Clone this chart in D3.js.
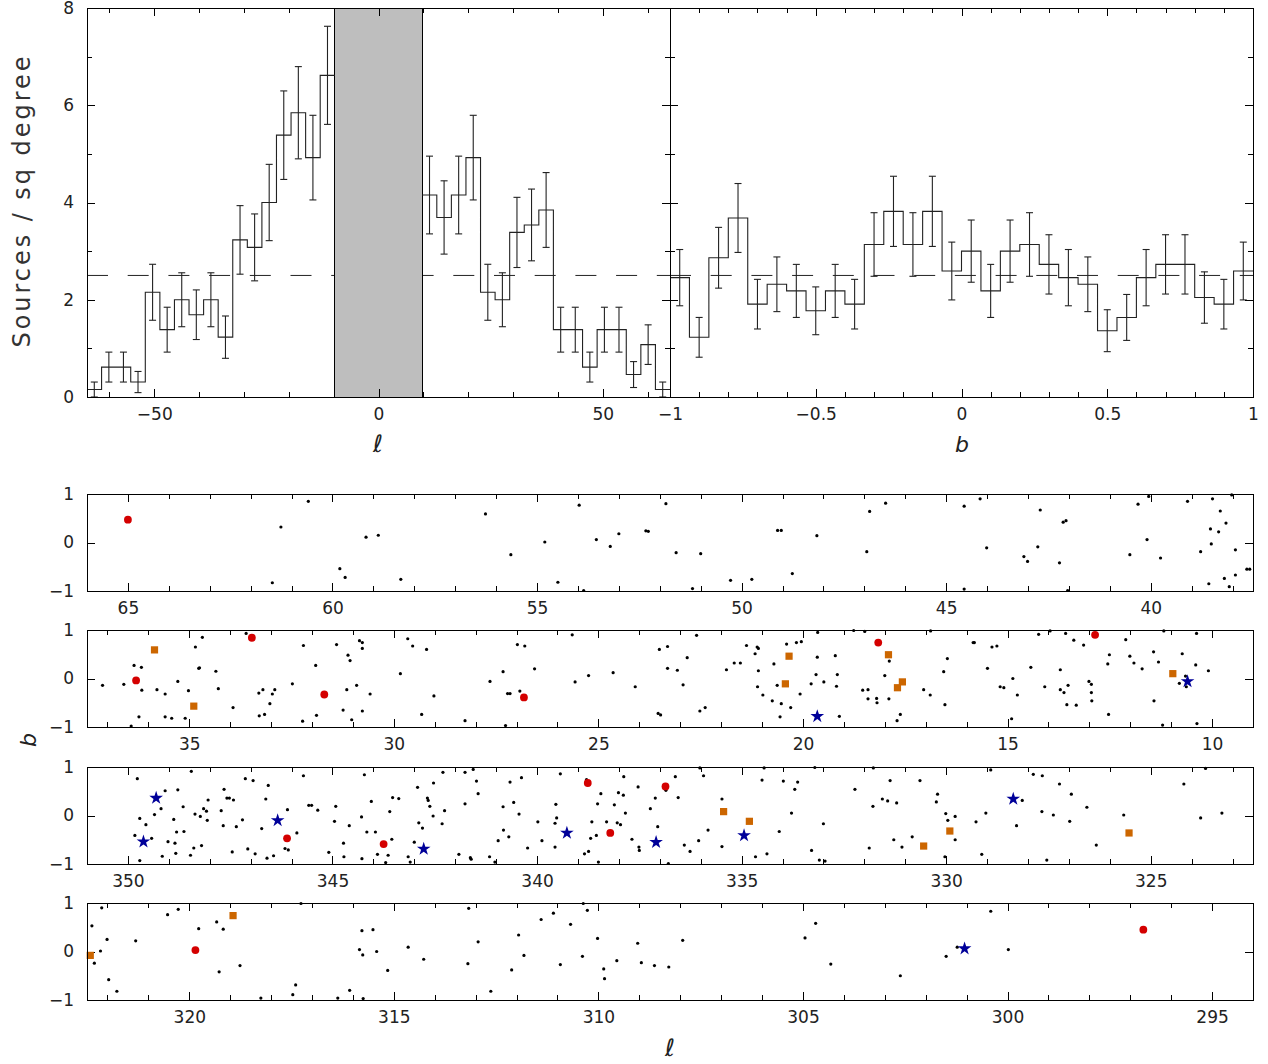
<!DOCTYPE html>
<html>
<head>
<meta charset="utf-8">
<script src="https://cdn.jsdelivr.net/npm/d3@7"></script>
<style>
body{margin:0;background:#fff}
text{font-family:"DejaVu Sans",sans-serif}
</style>
</head>
<body>
<svg id="chart" width="1268" height="1064"></svg>
<script>
// ---- histogram in l (counts per 3.25 deg bin, b = -1..1), null = masked band
var lBinStart = -65, lBinWidth = 3.25, lBinArea = 6.5;
var lCounts = [1,4,4,2,14,9,13,11,13,8,21,20,26,35,38,32,43,
               null,null,null,null,null,null,
               27,24,27,32,14,13,22,23,25,9,9,4,9,9,3,7,1];
var lMask = [-9.75, 9.75];
// ---- histogram in b (30 bins over -1..1, 110 deg of l)
var bBinStart = -1, bBinWidth = 1/15, bBinArea = 110/15;
var bCounts = [18,9,21,27,14,17,16,13,16,14,23,28,23,28,19,22,16,22,23,20,18,17,10,12,18,20,20,15,14,19];
var meanDensity = 2.5;
var densityTicks = [0,2,4,6,8], densityMinor = [1,3,5,7];
var lTicks = [-50,0,50], lMinor = [-60,-40,-30,-20,-10,10,20,30,40,60];
var bTicks = [-1,-0.5,0,0.5,1];
var bMinor = [-0.9,-0.8,-0.7,-0.6,-0.4,-0.3,-0.2,-0.1,0.1,0.2,0.3,0.4,0.6,0.7,0.8,0.9];

// ---- strips: l range left -> right
var stripRanges = [[66,37.5],[37.5,9],[351,322.5],[322.5,294]];

var blackSources = [
[60.59,0.85],[61.26,0.32],[61.47,-0.83],[59.18,0.11],[58.88,0.15],[59.82,-0.54],[59.69,-0.72],[58.33,-0.76],[56.26,0.59],[55.64,-0.25],[54.81,0.01],[54.49,-0.82],[53.97,0.77],[53.86,-0.99],[53.55,0.06],[53.21,-0.08],[53.00,0.18],[52.34,0.24],[52.28,0.23],[51.85,0.80],
[51.60,-0.21],[51.20,-0.95],[51.00,-0.23],[50.27,-0.78],[49.75,-0.76],[49.12,0.25],[49.03,0.25],[48.76,-0.64],[48.16,0.14],[46.94,-0.19],[46.87,0.64],[46.48,0.81],[44.56,0.75],[44.56,-0.96],[44.17,0.90],[44.01,-0.11],[43.10,-0.29],[43.01,-0.39],[42.76,-0.09],[42.70,0.67],[42.23,-0.42],[42.14,0.42],[42.07,0.45],[42.03,-0.99],[40.51,-0.25],[40.31,0.79],[40.09,0.06],[40.05,0.95],[39.76,-0.32],[39.10,0.85],[38.78,-0.19],[38.58,-0.85],[38.54,0.28],[38.52,-0.03],[38.49,0.90],[38.34,0.22],[38.30,0.65],[38.20,-0.74],[38.16,0.40],[38.08,-0.91],[38.02,0.98],[37.93,-0.15],[37.93,-0.67],[37.65,-0.55],[37.58,-0.55],
[37.12,-0.14],[36.60,-0.12],[36.42,-0.98],[36.35,0.27],[36.23,-0.79],[36.17,0.23],[36.16,-0.24],[35.79,-0.23],[35.59,-0.32],[35.59,-0.79],[35.43,-0.82],[35.28,-0.06],[35.10,-0.82],[35.02,-0.25],[34.85,0.65],[34.77,0.21],[34.75,0.22],[34.68,0.85],[34.35,0.15],[34.29,-0.21],[33.93,-0.60],[33.61,0.93],[33.30,-0.30],[33.29,-0.77],[33.20,-0.23],[33.16,-0.74],[33.03,-0.52],[32.97,-0.32],[32.91,-0.23],[32.48,-0.11],[32.23,-0.88],[32.21,0.68],[31.91,0.27],[31.89,-0.76],[31.40,0.70],[31.24,-0.65],[31.15,-0.23],[31.12,0.48],[31.07,0.37],[31.03,-0.85],[30.91,-0.14],[30.84,0.78],[30.77,0.74],[30.77,0.62],[30.77,-0.67],[30.58,-0.32],[29.84,0.10],[29.66,0.82],[29.54,0.67],[29.32,-0.74],[29.20,0.60],[29.02,-0.36],[28.26,-0.87],[27.65,-0.06],[27.33,0.14],[27.27,-0.97],[27.22,-0.31],[27.16,-0.31],[26.98,0.70],[26.92,-0.26],[26.80,0.67],[26.56,0.20],[25.64,0.90],[25.57,-0.07],[25.24,0.06],[24.64,0.12],[24.10,-0.17],[23.54,-0.72],[23.51,0.60],[23.48,-0.75],[23.31,0.66],[23.31,0.21],
[23.07,0.17],[22.93,-0.13],[22.83,0.43],[22.60,0.89],[22.52,-0.67],[22.39,-0.60],[21.87,0.18],[21.68,0.32],[21.53,0.32],[21.38,0.68],[21.17,0.51],[21.12,0.65],[21.09,0.62],[21.09,0.16],[21.11,-0.17],[20.98,-0.34],[20.75,-0.46],[20.71,0.30],[20.63,-0.14],[20.56,-0.79],[20.53,-0.52],[20.40,0.71],[20.30,-0.60],[20.16,0.74],[20.07,-0.32],[20.04,0.76],[19.80,-0.11],[19.68,0.08],[19.65,0.44],[19.64,0.95],[19.49,-0.07],[19.21,0.47],[19.18,-0.16],[19.16,0.08],[19.11,-0.78],[18.76,0.99],[18.54,-0.24],[18.49,0.97],[18.41,-0.23],[18.41,-0.42],[18.20,-0.41],[18.19,-0.50],[18.00,0.06],[17.89,0.36],[17.90,-0.42],[17.70,-0.87],[17.62,-0.74],[17.05,-0.23],[16.89,-0.34],[16.88,0.98],[16.56,0.14],[16.53,-0.54],[16.47,0.41],[15.84,0.74],[15.81,0.74],[15.49,0.21],[15.38,0.65],[15.26,0.67],[15.18,-0.17],[15.09,-0.19],[14.90,-0.83],[14.87,0.00],[14.76,-0.34],[14.43,0.23],[14.24,0.91],[14.09,-0.17],[13.96,0.98],[13.71,0.18],[13.71,-0.23],[13.62,-0.29],[13.58,0.93],[13.55,-0.54],[13.52,-0.14],[13.38,0.79],[13.32,-0.55],[13.14,0.69],[13.01,-0.06],[12.95,-0.12],[12.95,-0.29],[12.94,-0.46],[12.55,0.30],[12.53,-0.74],[12.51,0.49],[12.11,0.80],[12.01,0.46],[11.91,0.32],[11.71,0.20],[11.43,0.55],[11.42,-0.46],[11.31,0.34],[11.21,-0.96],[11.18,0.98],[10.80,-0.10],[10.73,0.51],[10.65,0.05],[10.63,-0.17],[10.40,0.28],[10.38,0.93],[10.37,-0.93],[10.09,0.16],
[349.77,0.76],[349.83,-0.41],[349.71,-0.06],[349.71,-0.93],[349.56,-0.19],[349.42,-0.47],[349.35,0.02],[349.19,0.14],[349.16,-0.84],[349.09,0.51],[349.02,-0.54],[348.88,-0.08],[348.85,-0.57],[348.83,-0.78],[348.81,-0.34],[348.78,0.53],[348.65,0.18],[348.63,-0.33],[348.47,-0.82],[348.45,0.91],[348.39,-0.67],[348.36,0.03],[348.23,-0.02],[348.20,-0.62],[348.15,0.14],[348.08,0.09],[348.06,-0.10],[348.04,0.32],[347.72,0.10],[347.67,-0.21],[347.65,0.54],[347.58,0.36],[347.52,0.36],[347.45,-0.75],[347.42,0.32],[347.35,-0.23],[347.20,-0.09],[347.13,0.76],[347.07,-0.69],[346.94,0.72],[346.89,-0.79],[346.73,-0.27],[346.63,0.34],[346.60,-0.88],[346.57,0.62],[346.44,-0.83],[346.16,-0.68],[346.10,0.12],[346.08,-0.71],[345.87,-0.36],[345.71,0.82],[345.58,0.21],[345.51,0.21],[345.36,0.11],[345.09,-0.76],[344.95,-0.12],[344.92,0.19],[344.73,-0.57],[344.72,-0.85],[344.59,-0.21],[344.29,-0.03],[344.28,-0.89],[344.22,0.84],[344.16,-0.34],[344.05,0.29],[343.95,-0.34],[343.90,-0.80],[343.70,-0.97],[343.64,-0.82],[343.60,0.08],[343.55,-0.49],[343.53,0.37],[343.38,0.35],[343.15,-0.85],[343.10,-0.96],[343.00,-0.55],[342.92,0.58],[342.89,-0.15],[342.80,-0.26],[342.68,0.36],[342.66,0.31],[342.62,0.19],[342.54,-0.01],[342.53,0.67],[342.32,-0.17],[342.30,0.89],[342.26,0.10],[341.91,-0.80],[341.76,0.89],[341.76,0.24],[341.63,-0.87],[341.61,-0.90],[341.56,0.95],[341.48,0.71],[341.44,0.45],[341.16,-0.85],[341.03,-0.96],[340.95,-0.52],[340.83,0.18],[340.82,-0.30],[340.69,-0.44],[340.66,0.69],[340.57,0.27],[340.44,0.03],[340.38,0.78],[340.23,-0.67],[339.98,-0.13],[339.88,-0.52],[339.56,-0.16],[339.56,-0.65],[339.54,0.23],[339.52,-0.05],[339.43,0.86],[338.84,-0.79],[338.79,0.74],[338.74,-0.74],[338.69,-0.47],[338.66,-0.13],[338.55,-0.41],[338.52,0.24],[338.50,-0.96],[338.44,0.45],[338.30,-0.13],[338.11,0.22],[338.04,-0.15],[338.01,0.47],[337.96,-0.19],[337.89,0.42],[337.88,0.80],[337.84,0.05],[337.68,-0.49],[337.53,0.59],[337.51,-0.65],[337.50,-0.72],[337.23,0.14],[337.11,0.36],[337.05,-0.23],[336.85,0.52],[336.79,-0.99],
[336.62,0.80],[336.55,0.37],[336.40,-0.61],[336.26,-0.74],[336.05,-0.52],[336.02,0.98],[335.93,0.82],[335.82,-0.30],[335.48,0.34],[335.48,-0.64],[334.66,-0.85],[334.50,0.73],[334.45,0.98],[334.38,-0.79],[334.08,-0.33],[333.98,0.71],[333.78,0.05],[333.70,0.54],[333.63,0.69],[333.29,-0.72],[333.21,0.99],[333.10,-0.92],[333.00,-0.17],[332.96,-0.94],[332.23,0.54],[331.88,-0.67],[331.79,0.19],[331.78,0.98],[331.56,0.34],[331.43,0.30],[331.37,0.72],[331.28,-0.50],[331.21,0.26],[331.08,-0.65],[330.83,-0.44],[330.64,0.72],[330.24,0.28],[330.21,0.44],[330.03,-0.85],[330.01,0.04],[329.96,-0.10],[329.78,-0.02],[329.78,-0.50],[329.27,-0.13],[329.13,-0.80],[329.03,0.05],[328.91,0.94],[328.28,-0.21],[328.14,0.31],[327.87,0.85],[327.66,0.08],[327.65,0.82],[327.54,-0.92],[327.38,0.01],[327.23,0.65],[326.98,-0.12],[326.94,0.44],[326.56,0.17],[326.33,-0.61],[325.66,0.01],[324.19,0.65],[323.78,-0.05],[323.66,0.97],[323.26,0.05],
[322.38,0.53],[322.32,-0.24],[322.17,0.01],[322.14,0.90],[322.01,0.25],[321.97,-0.58],[321.77,-0.82],[321.31,0.22],[320.53,0.76],[320.27,0.87],[319.77,0.47],[319.33,0.61],[319.27,-0.42],[319.17,0.46],[318.76,-0.29],[318.25,-0.96],[317.47,-0.89],[317.40,-0.69],[317.27,0.99],[316.37,-0.96],[316.08,-0.80],[315.84,0.04],[315.78,0.43],[315.76,-0.07],[315.75,-0.97],[315.51,0.45],[315.42,0.00],[315.15,-0.39],[314.65,0.09],[314.27,-0.16],[313.19,-0.25],[313.17,0.89],[312.94,0.20],[312.63,-0.82],[312.12,-0.38],[311.95,0.34],[311.82,-0.08],[311.40,0.66],[311.10,0.79],[310.93,-0.27],[310.68,0.56],[310.39,-0.10],[310.37,0.99],[310.27,0.85],[310.02,0.27],[309.87,-0.36],[309.85,-0.56],[309.55,-0.19],[309.04,0.17],[308.95,-0.23],[308.63,-0.29],[308.28,-0.32],
[307.94,0.23],[304.95,0.28],[304.69,0.58],[304.32,-0.26],[302.62,-0.50],[301.50,-0.10],[301.23,0.09],[300.41,0.83],[299.98,0.04]
];
var redSources = [[65.0,0.47],[33.47,0.84],[36.30,-0.04],[31.70,-0.33],[26.82,-0.39],[18.16,0.74],[12.86,0.90],
  [346.11,-0.47],[343.75,-0.59],[338.76,0.67],[338.21,-0.36],[336.86,0.60],[319.85,0.03],[296.68,0.45]];
var orangeSources = [[35.85,0.59],[34.89,-0.57],[20.34,0.46],[20.43,-0.11],[17.91,0.49],[17.57,-0.07],[17.69,-0.19],[10.96,0.10],
  [335.44,0.08],[334.81,-0.12],[329.91,-0.32],[330.55,-0.63],[325.53,-0.36],[322.42,-0.08],[318.93,0.74]];
var blueSources = [[19.65,-0.78],[10.60,-0.06],[349.31,0.36],[349.62,-0.54],[346.34,-0.10],[342.77,-0.69],[339.27,-0.36],
  [337.09,-0.55],[334.94,-0.41],[328.36,0.34],[301.05,0.06]];

var svg = d3.select('#chart');
var FONT = 17, MAJOR = 8, MINOR = 5;

// axis with inward ticks, no domain line
function tickAxis(g, axisGen, translate, values, len, fmt, pad){
    var ax = g.append('g').attr('transform', translate)
        .call(axisGen.tickValues(values).tickSizeInner(-len).tickSizeOuter(0)
            .tickPadding(pad || 0).tickFormat(fmt || function(){ return ''; }));
    ax.select('.domain').remove();
    ax.selectAll('line').attr('stroke', '#000').attr('shape-rendering', 'crispEdges');
    ax.selectAll('text').attr('font-family', '"DejaVu Sans",sans-serif').attr('font-size', FONT).attr('fill', '#222');
    return ax;
}
function frame(g, x0, y0, x1, y1){
    g.append('rect').attr('x', x0).attr('y', y0).attr('width', x1 - x0).attr('height', y1 - y0)
        .attr('fill', 'none').attr('stroke', '#000').attr('shape-rendering', 'crispEdges');
}
function stepSegments(start, width, counts, area){
    var segs = [], cur = null;
    counts.forEach(function(n, i){
        if (n === null){ cur = null; return; }
        if (!cur){ cur = []; segs.push(cur); }
        var x0 = start + i * width, v = n / area;
        cur.push([x0, v], [x0 + width, v]);
    });
    return segs;
}
function errorBars(start, width, counts, area){
    var out = [];
    counts.forEach(function(n, i){
        if (n === null) return;
        out.push({x: start + (i + 0.5) * width, lo: (n - Math.sqrt(n)) / area, hi: (n + Math.sqrt(n)) / area});
    });
    return out;
}

// ---------------- top panels ----------------
var yD = d3.scaleLinear().domain([0, 8]).range([397, 8]);
var xL = d3.scaleLinear().domain([-65, 65]).range([87, 670]);
var xB = d3.scaleLinear().domain([-1, 1]).range([670, 1253]);

function histPanel(x, start, width, counts, area, mask){
    var g = svg.append('g');
    var r = x.range();
    g.append('line').attr('x1', r[0]).attr('x2', r[1]).attr('y1', yD(meanDensity)).attr('y2', yD(meanDensity))
        .attr('stroke', '#222').attr('stroke-dasharray', '21,19.7');
    if (mask){
        g.append('rect').attr('x', x(mask[0])).attr('y', yD(8)).attr('width', x(mask[1]) - x(mask[0]))
            .attr('height', yD(0) - yD(8)).attr('fill', '#bebebe').attr('stroke', '#000').attr('shape-rendering', 'crispEdges');
    }
    var line = d3.line().x(function(d){ return x(d[0]); }).y(function(d){ return yD(d[1]); });
    g.selectAll('path.step').data(stepSegments(start, width, counts, area)).enter().append('path')
        .attr('class', 'step').attr('d', line).attr('fill', 'none').attr('stroke', '#222').attr('stroke-width', 1.1);
    var eb = g.selectAll('g.eb').data(errorBars(start, width, counts, area)).enter().append('g').attr('class', 'eb');
    eb.append('line').attr('x1', function(d){ return x(d.x); }).attr('x2', function(d){ return x(d.x); })
        .attr('y1', function(d){ return yD(d.lo); }).attr('y2', function(d){ return yD(d.hi); });
    eb.append('line').attr('x1', function(d){ return x(d.x) - 3.5; }).attr('x2', function(d){ return x(d.x) + 3.5; })
        .attr('y1', function(d){ return yD(d.lo); }).attr('y2', function(d){ return yD(d.lo); });
    eb.append('line').attr('x1', function(d){ return x(d.x) - 3.5; }).attr('x2', function(d){ return x(d.x) + 3.5; })
        .attr('y1', function(d){ return yD(d.hi); }).attr('y2', function(d){ return yD(d.hi); });
    eb.selectAll('line').attr('stroke', '#222').attr('stroke-width', 1.1);
    return g;
}

var gL = histPanel(xL, lBinStart, lBinWidth, lCounts, lBinArea, lMask);
tickAxis(gL, d3.axisBottom(xL), 'translate(0,397)', lTicks, MAJOR, d3.format(''), 11);
tickAxis(gL, d3.axisBottom(xL), 'translate(0,397)', lMinor, MINOR);
tickAxis(gL, d3.axisTop(xL), 'translate(0,8)', lTicks, MAJOR);
tickAxis(gL, d3.axisTop(xL), 'translate(0,8)', lMinor, MINOR);
tickAxis(gL, d3.axisLeft(yD), 'translate(87,0)', densityTicks, MAJOR, d3.format('d'), 13);
tickAxis(gL, d3.axisLeft(yD), 'translate(87,0)', densityMinor, MINOR);
tickAxis(gL, d3.axisRight(yD), 'translate(670,0)', densityTicks, MAJOR);
tickAxis(gL, d3.axisRight(yD), 'translate(670,0)', densityMinor, MINOR);
frame(gL, 87, 8, 670, 397);

var gB = histPanel(xB, bBinStart, bBinWidth, bCounts, bBinArea, null);
tickAxis(gB, d3.axisBottom(xB), 'translate(0,397)', bTicks, MAJOR, d3.format(''), 11);
tickAxis(gB, d3.axisBottom(xB), 'translate(0,397)', bMinor, MINOR);
tickAxis(gB, d3.axisTop(xB), 'translate(0,8)', bTicks, MAJOR);
tickAxis(gB, d3.axisTop(xB), 'translate(0,8)', bMinor, MINOR);
tickAxis(gB, d3.axisLeft(yD), 'translate(670,0)', densityTicks, MAJOR);
tickAxis(gB, d3.axisLeft(yD), 'translate(670,0)', densityMinor, MINOR);
tickAxis(gB, d3.axisRight(yD), 'translate(1253,0)', densityTicks, MAJOR);
tickAxis(gB, d3.axisRight(yD), 'translate(1253,0)', densityMinor, MINOR);
frame(gB, 670, 8, 1253, 397);

svg.append('text').attr('transform', 'translate(22,202) rotate(-90)').attr('text-anchor', 'middle')
    .attr('dominant-baseline', 'central').attr('font-size', 24).attr('fill', '#333')
    .attr('textLength', 291).attr('lengthAdjust', 'spacing').text('Sources / sq degree');
svg.append('text').attr('x', 378).attr('y', 452).attr('text-anchor', 'middle')
    .attr('font-family', '"DejaVu Serif",serif').attr('font-style', 'italic').attr('font-size', 24).attr('fill', '#222').text('\u2113');
svg.append('text').attr('x', 962).attr('y', 452).attr('text-anchor', 'middle')
    .attr('font-family', '"DejaVu Serif",serif').attr('font-style', 'italic').attr('font-size', 22).attr('fill', '#222').text('b');

// ---------------- strips ----------------
var stripTops = [494, 630, 767, 903], stripH = 97;
var yStripTicks = [-1, 0, 1];

stripRanges.forEach(function(rg, k){
    var top = stripTops[k], bot = top + stripH;
    var x = d3.scaleLinear().domain(rg).range([87, 1253]);
    var y = d3.scaleLinear().domain([-1, 1]).range([bot, top]);
    var lo = Math.min(rg[0], rg[1]), hi = Math.max(rg[0], rg[1]);
    var inside = function(d){ return d[0] >= lo && d[0] <= hi; };
    var g = svg.append('g');
    var majors = d3.range(Math.ceil(lo / 5) * 5, hi + 0.001, 5);
    var minors = d3.range(Math.ceil(lo), Math.floor(hi) + 1).filter(function(v){ return v % 5 !== 0; });

    tickAxis(g, d3.axisBottom(x), 'translate(0,' + bot + ')', majors, MAJOR, d3.format('d'), 11);
    tickAxis(g, d3.axisBottom(x), 'translate(0,' + bot + ')', minors, MINOR);
    tickAxis(g, d3.axisTop(x), 'translate(0,' + top + ')', majors, MAJOR);
    tickAxis(g, d3.axisTop(x), 'translate(0,' + top + ')', minors, MINOR);
    tickAxis(g, d3.axisLeft(y), 'translate(87,0)', yStripTicks, MAJOR, d3.format('d'), 13);
    tickAxis(g, d3.axisRight(y), 'translate(1253,0)', yStripTicks, MAJOR);

    g.selectAll('circle.src').data(blackSources.filter(inside)).enter().append('circle').attr('class', 'src')
        .attr('cx', function(d){ return x(d[0]); }).attr('cy', function(d){ return y(d[1]); })
        .attr('r', 1.6).attr('fill', '#000');
    g.selectAll('path.sq').data(orangeSources.filter(inside)).enter().append('path').attr('class', 'sq')
        .attr('d', d3.symbol().type(d3.symbolSquare).size(52))
        .attr('transform', function(d){ return 'translate(' + x(d[0]) + ',' + y(d[1]) + ')'; })
        .attr('fill', '#cc6600');
    g.selectAll('circle.red').data(redSources.filter(inside)).enter().append('circle').attr('class', 'red')
        .attr('cx', function(d){ return x(d[0]); }).attr('cy', function(d){ return y(d[1]); })
        .attr('r', 3.9).attr('fill', '#d40000');
    g.selectAll('path.star').data(blueSources.filter(inside)).enter().append('path').attr('class', 'star')
        .attr('d', d3.symbol().type(d3.symbolStar).size(58))
        .attr('transform', function(d){ return 'translate(' + x(d[0]) + ',' + y(d[1]) + ')'; })
        .attr('fill', '#000099');
    frame(g, 87, top, 1253, bot);
});

svg.append('text').attr('transform', 'translate(28,740) rotate(-90)').attr('text-anchor', 'middle')
    .attr('dominant-baseline', 'central').attr('font-family', '"DejaVu Serif",serif').attr('font-style', 'italic')
    .attr('font-size', 22).attr('fill', '#222').text('b');
svg.append('text').attr('x', 670).attr('y', 1056).attr('text-anchor', 'middle')
    .attr('font-family', '"DejaVu Serif",serif').attr('font-style', 'italic').attr('font-size', 24).attr('fill', '#222').text('\u2113');
</script>
</body>
</html>
